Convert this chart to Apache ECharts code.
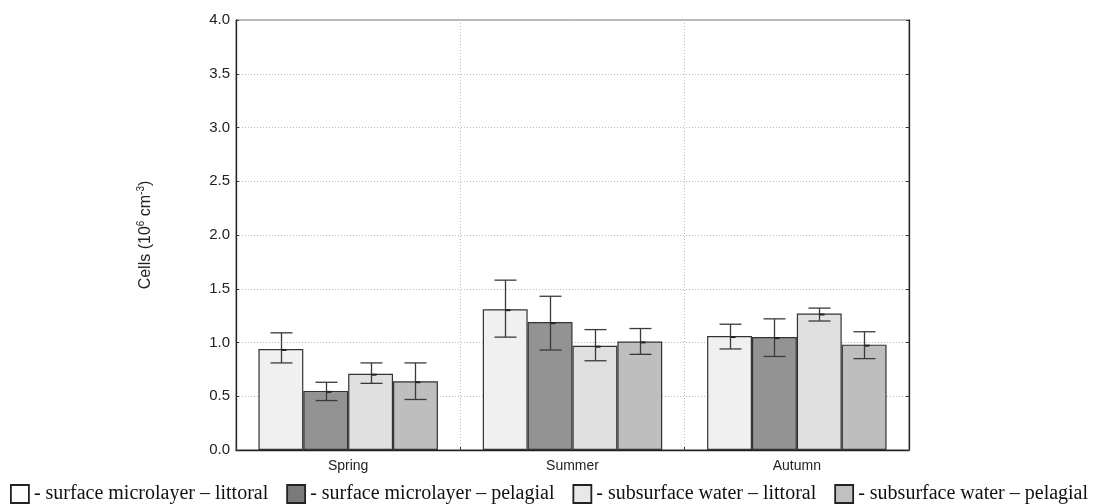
<!DOCTYPE html>
<html>
<head>
<meta charset="utf-8">
<script src="https://cdn.jsdelivr.net/npm/echarts@6/dist/echarts.min.js"></script>
<style>
  html, body { margin: 0; padding: 0; background: #fff; }
  #chart { width: 1096px; height: 504px; }
</style>
</head>
<body>
<div id="chart"></div>
<script>
// Seasons on the category axis
const seasons = ['Spring', 'Summer', 'Autumn'];

// Series names
const seriesNames = [
  'surface microlayer \u2013 littoral',
  'surface microlayer \u2013 pelagial',
  'subsurface water \u2013 littoral',
  'subsurface water \u2013 pelagial'
];

// Mean cell counts (10^6 cm^-3)
const smLittoral = [0.94, 1.31, 1.06];
const smPelagial = [0.55, 1.19, 1.05];
const swLittoral = [0.71, 0.97, 1.27];
const swPelagial = [0.64, 1.01, 0.98];

// Error bar ranges [low, high]
const smLittoralErr = [[0.81, 1.09], [1.05, 1.58], [0.94, 1.17]];
const smPelagialErr = [[0.46, 0.63], [0.93, 1.43], [0.87, 1.22]];
const swLittoralErr = [[0.62, 0.81], [0.83, 1.12], [1.20, 1.32]];
const swPelagialErr = [[0.47, 0.81], [0.89, 1.13], [0.85, 1.10]];

// Y axis ticks
const yTicks = [0, 0.5, 1.0, 1.5, 2.0, 2.5, 3.0, 3.5, 4.0];

const means = [smLittoral, smPelagial, swLittoral, swPelagial];
const errs = [smLittoralErr, smPelagialErr, swLittoralErr, swPelagialErr];
const barColors = ['#f0f0f0', '#939393', '#e0e0e0', '#bebebe'];
const legendColors = ['#ffffff', '#7a7a7a', '#e8e8e8', '#c0c0c0'];
const nGroups = means.length;

const barSeries = means.map((vals, k) => ({
  name: seriesNames[k],
  type: 'bar',
  data: vals,
  barGap: '0%',
  barCategoryGap: '20%',
  itemStyle: { color: barColors[k], borderColor: '#333', borderWidth: 1.2 },
  z: 2
}));

const errSeries = errs.map((rng, k) => ({
  type: 'custom',
  name: 'err' + k,
  z: 5,
  silent: true,
  data: rng.map((r, i) => [i, r[0], r[1], means[k][i]]),
  encode: { x: 0, y: [1, 2] },
  renderItem: function (params, api) {
    const cat = api.value(0);
    const lo = api.coord([cat, api.value(1)]);
    const hi = api.coord([cat, api.value(2)]);
    const mid = api.coord([cat, api.value(3)]);
    const band = api.size([1, 0])[0];
    const bw = band * 0.8 / nGroups;
    const cx = Math.round(lo[0] + (k - (nGroups - 1) / 2) * bw) + 0.5;
    const cap = 11;
    const st = { stroke: '#3a3a3a', lineWidth: 1.3 };
    return {
      type: 'group',
      children: [
        { type: 'line', shape: { x1: cx, y1: lo[1], x2: cx, y2: hi[1] }, style: st },
        { type: 'line', shape: { x1: cx - cap, y1: hi[1], x2: cx + cap, y2: hi[1] }, style: st },
        { type: 'line', shape: { x1: cx - cap, y1: lo[1], x2: cx + cap, y2: lo[1] }, style: st },
        { type: 'rect', shape: { x: cx, y: mid[1], width: 5, height: 2 }, style: { fill: '#222' } }
      ]
    };
  }
}));

const chart = echarts.init(document.getElementById('chart'), null, { renderer: 'canvas' });
chart.setOption({
  animation: false,
  backgroundColor: '#ffffff',
  grid: {
    left: 236, right: 187, top: 20, bottom: 54,
    show: true, borderColor: '#777', borderWidth: 1
  },
  legend: {
    left: 10,
    top: 484,
    padding: 0,
    itemWidth: 18,
    itemHeight: 18,
    itemGap: 18,
    icon: 'rect',
    formatter: '- {name}',
    textStyle: { fontFamily: 'Liberation Serif', fontSize: 20, color: '#111' },
    data: seriesNames.map((n, k) => ({
      name: n,
      itemStyle: { color: legendColors[k], borderColor: '#222', borderWidth: 1.8 }
    }))
  },
  xAxis: {
    type: 'category',
    data: seasons,
    axisLine: { lineStyle: { color: '#222', width: 1.3 } },
    axisTick: { show: true, inside: true, length: 3, lineStyle: { color: '#333' } },
    axisLabel: { fontFamily: 'Liberation Sans', fontSize: 14, color: '#222', margin: 9 },
    splitLine: { show: true, lineStyle: { color: '#bbb', type: [1, 2], width: 1 } }
  },
  yAxis: [{
    type: 'value',
    min: 0, max: 4, interval: 0.5,
    axisLine: { show: true, lineStyle: { color: '#222', width: 1.3 } },
    axisTick: { show: true, inside: true, length: 3, lineStyle: { color: '#333' } },
    axisLabel: {
      fontFamily: 'Liberation Sans', fontSize: 15, color: '#222', margin: 6,
      formatter: v => yTicks.includes(v) ? v.toFixed(1) : ''
    },
    splitLine: { show: true, lineStyle: { color: '#bbb', type: [1, 2], width: 1 } },
    name: '{a|Cells (10}{s|6}{a| cm}{s|-3}{a|)}',
    nameLocation: 'middle',
    nameGap: 81,
    nameRotate: 90,
    nameTextStyle: {
      rich: {
        a: { fontFamily: 'Liberation Sans', fontSize: 16, color: '#222' },
        s: { fontFamily: 'Liberation Sans', fontSize: 10, color: '#222', padding: [0, 0, 9, 0] }
      }
    }
  }, {
    type: 'value',
    position: 'right',
    min: 0, max: 4, interval: 0.5,
    axisLine: { show: true, lineStyle: { color: '#222', width: 1.3 } },
    axisTick: { show: true, inside: true, length: 3, lineStyle: { color: '#333' } },
    axisLabel: { show: false },
    splitLine: { show: false }
  }],
  series: barSeries.concat(errSeries)
});
</script>
</body>
</html>
